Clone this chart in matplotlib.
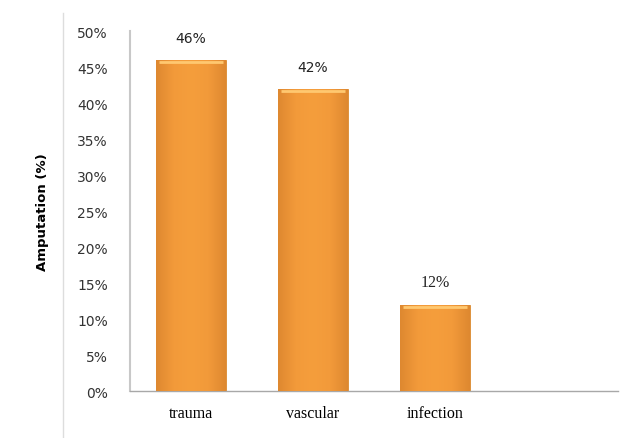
import numpy as np
import matplotlib
matplotlib.use("Agg")
import matplotlib.pyplot as plt
from matplotlib.colors import LinearSegmentedColormap
from matplotlib.lines import Line2D
from matplotlib import font_manager

categories = ["trauma", "vascular", "infection", ""]
values = [46, 42, 12, None]
value_labels = ["46%", "42%", "12%", ""]
label_fonts = ["DejaVu Sans", "DejaVu Sans", "Liberation Serif", "DejaVu Sans"]
label_sizes = [10, 10, 11.5, 10]
yticks = [0, 5, 10, 15, 20, 25, 30, 35, 40, 45, 50]

installed = {f.name for f in font_manager.fontManager.ttflist}
narrow = "DejaVu Sans"
for cand in ["Liberation Sans Narrow", "DejaVu Sans Condensed"]:
    if cand in installed:
        narrow = cand
        break

fig = plt.figure(figsize=(6.32, 4.39), dpi=100)
ax = fig.add_axes([0.2057, 0.107, 0.7723, 0.820])

x = np.arange(len(categories))
heights = [v if v is not None else 0 for v in values]
bars = ax.bar(x, heights, width=0.57, color="#F39B3A",
              edgecolor="#D98A30", linewidth=0.6, zorder=2)

# subtle horizontal gradient on each bar
cmap = LinearSegmentedColormap.from_list(
    "bar", ["#DE8830", "#F29A3A", "#F59E3C", "#F29A3A", "#DE8830"])
grad = np.linspace(0, 1, 200).reshape(1, -1)
for b, v in zip(bars, values):
    if v is None:
        continue
    im = ax.imshow(grad, cmap=cmap, aspect="auto", zorder=3,
                   extent=[b.get_x(), b.get_x() + b.get_width(), 0, b.get_height()])
    im.set_clip_path(b)
    ax.plot([b.get_x() + 0.02, b.get_x() + b.get_width() - 0.02],
            [b.get_height() - 0.3] * 2, color="#FFC870", lw=2.0, zorder=4,
            solid_capstyle="butt")

for xi, v, lab, fnt, fs in zip(x, values, value_labels, label_fonts, label_sizes):
    if v is None:
        continue
    ax.text(xi, v + 2.0, lab, ha="center", va="bottom", fontsize=fs,
            family=fnt, color="#222222")

ax.set_xlim(-0.5, len(categories) - 0.5)
ax.set_ylim(0, 50)
ax.set_yticks(yticks)
ax.set_yticklabels([f"{t}%" for t in yticks], fontsize=10, color="#333333")
ax.set_xticks(x)
ax.set_xticklabels(categories, family="Liberation Serif", fontsize=11.5)
ax.tick_params(axis="x", length=0, pad=10)
ax.tick_params(axis="y", length=0, pad=16)

for s in ["top", "right"]:
    ax.spines[s].set_visible(False)
ax.spines["left"].set_color("#C8C8C8")
ax.spines["left"].set_linewidth(1.5)
ax.spines["bottom"].set_color("#A8A8A8")
ax.spines["bottom"].set_linewidth(1.0)

ax.set_ylabel("Amputation (%)", fontsize=9.5 if narrow == "DejaVu Sans" else 11,
              fontweight="bold", labelpad=20, family=narrow)

# faint outer frame line on the left
fig.add_artist(Line2D([63 / 632, 63 / 632], [0, 1 - 14 / 439],
                      color="#DDDDDD", lw=1.0, transform=fig.transFigure))

fig.savefig("out.png", dpi=100)
